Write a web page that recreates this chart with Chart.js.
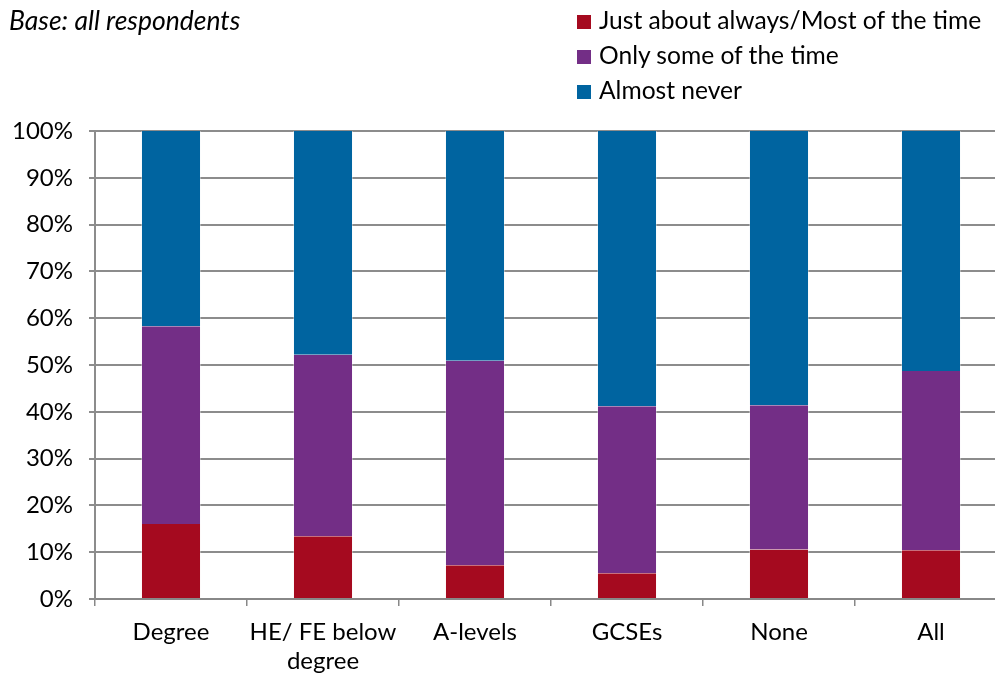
<!DOCTYPE html>
<html><head><meta charset="utf-8">
<script src="https://cdn.jsdelivr.net/npm/chart.js@4/dist/chart.umd.min.js"></script>
<style>
html,body{margin:0;padding:0;overflow:hidden;background:#fff;width:995px;height:679px;}
#wrap{position:relative;width:1007px;height:679px;}
#title{position:absolute;left:9px;top:3px;font:italic 26.5px Lato,'Open Sans',sans-serif;color:#000;line-height:34px;}
#legend{position:absolute;left:577px;top:3px;font:24.6px Lato,'Open Sans',sans-serif;color:#000;}
#legend div{height:35px;line-height:34px;white-space:nowrap;}
#legend span{display:inline-block;width:14px;height:14px;margin-right:8px;vertical-align:0px;}
</style></head>
<body>
<div id="wrap">
<canvas id="c" width="1007" height="679" style="width:1007px;height:679px"></canvas>
<div id="title">Base: all respondents</div>
<div id="legend"></div>
</div>
<script>
const categories = [["Degree"], ["HE/ FE below", "degree"], ["A-levels"], ["GCSEs"], ["None"], ["All"]];
const seriesNames = ["Just about always/Most of the time", "Only some of the time", "Almost never"];
const mostOfTime = [16.0, 13.4, 7.2, 5.5, 10.6, 10.4];
const someOfTime = [42.3, 38.8, 43.7, 35.7, 30.8, 38.3];
const almostNever = [41.7, 47.8, 49.1, 58.8, 58.6, 51.3];
const colors = ["#a50a1f", "#732e86", "#0064a0"];

const lg = document.getElementById('legend');
seriesNames.forEach((n,i)=>{
  const d=document.createElement('div');
  const s=document.createElement('span'); s.style.background=colors[i];
  d.appendChild(s); d.appendChild(document.createTextNode(n)); lg.appendChild(d);
});

const font = {family:"Lato, 'Open Sans', sans-serif", size:24, lineHeight:1.2};
new Chart(document.getElementById('c'), {
  type:'bar',
  data:{
    labels:categories,
    datasets:[mostOfTime, someOfTime, almostNever].map((d,i)=>({
      label:seriesNames[i], data:d, backgroundColor:colors[i],
      borderColor:'rgba(255,255,255,0.35)', borderWidth:{left:1,right:1,top:0,bottom:0},
      barPercentage:0.395, categoryPercentage:1
    }))
  },
  options:{
    responsive:false, animation:false,
    layout:{padding:{top:131,left:0,right:0,bottom:0}},
    plugins:{legend:{display:false}, tooltip:{enabled:false}},
    scales:{
      x:{
        stacked:true,
        grid:{display:true, offset:true, drawOnChartArea:false, color:'#888', lineWidth:1.5, tickLength:7},
        border:{color:'#888', width:2},
        ticks:{color:'#000', font:font, padding:12, maxRotation:0},
        afterFit(s){ s.height = 80; }
      },
      y:{
        stacked:true, min:0, max:100,
        ticks:{stepSize:10, color:'#000', font:font, padding:16, callback:v=>v+'%'},
        grid:{color:'#8c8c8c', lineWidth:2, tickLength:6},
        border:{color:'#8c8c8c', width:2},
        afterFit(s){ s.width = 95; }
      }
    }
  }
});
</script>
</body></html>
